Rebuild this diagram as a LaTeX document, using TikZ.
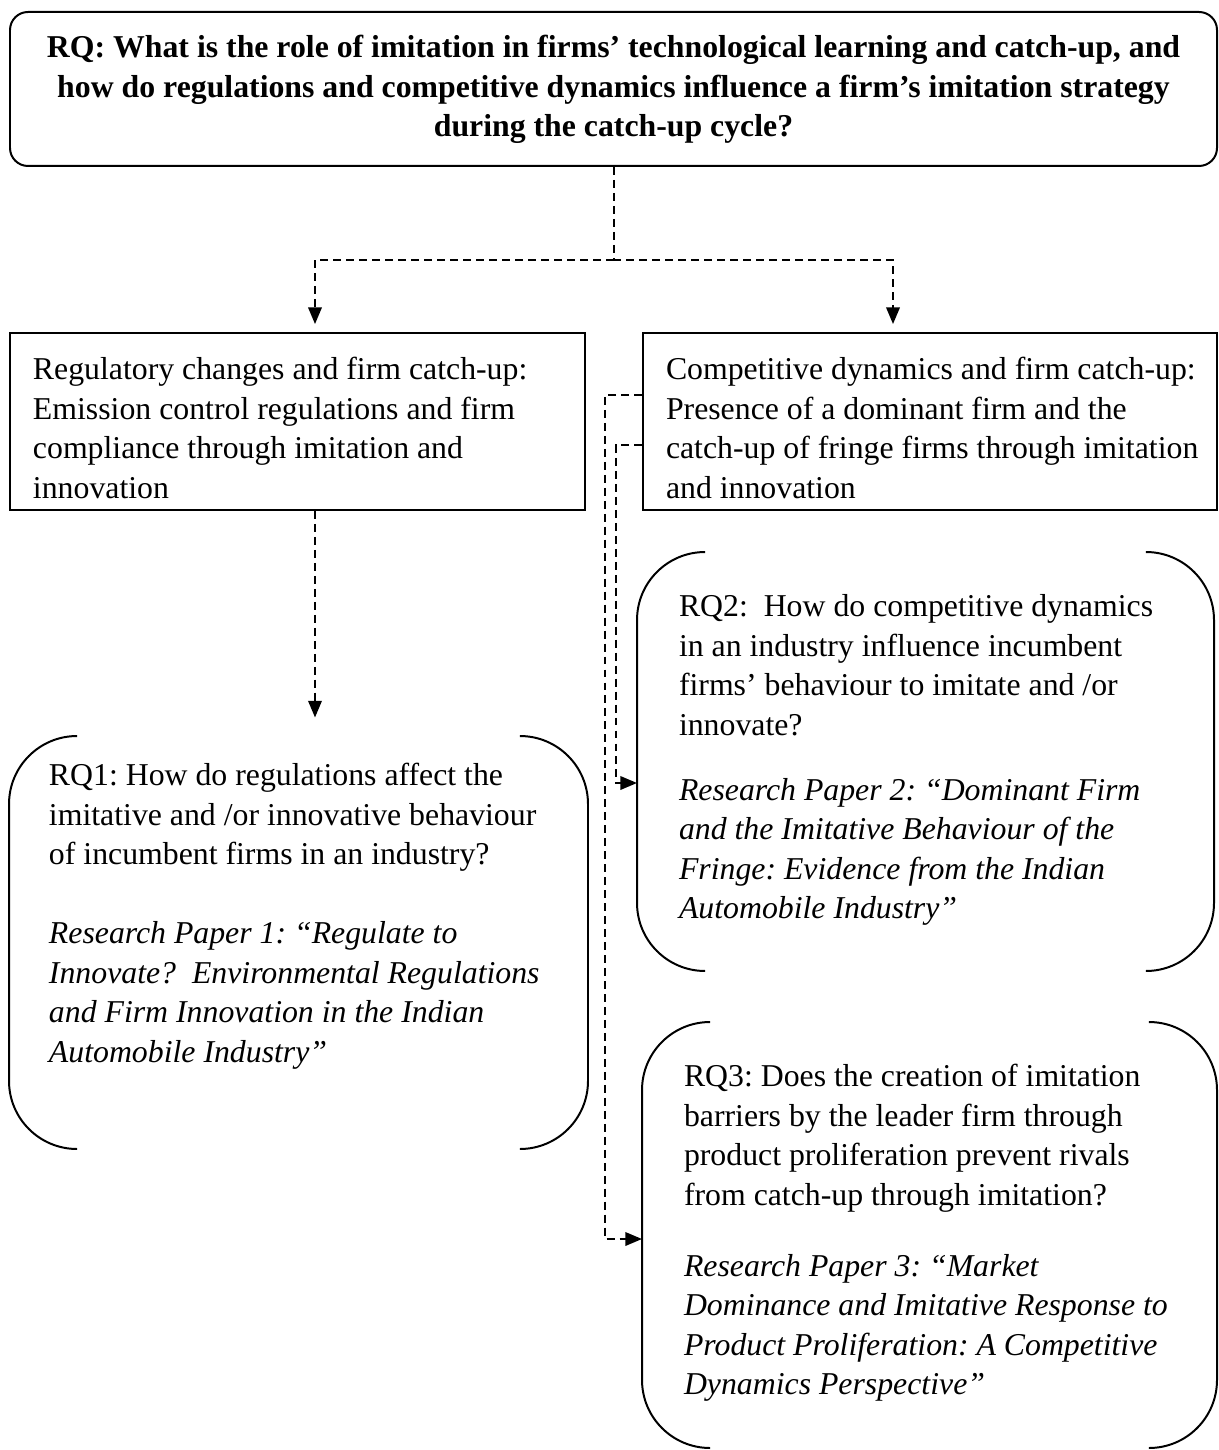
\documentclass[tikz,border=0pt]{standalone}
\usepackage{fontspec}
\setmainfont{Liberation Serif}
\usetikzlibrary{arrows.meta,calc,fit}
% fixes the height of the first line of a text block
\newcommand{\lnstrut}{\rule{0pt}{10pt}}
% a pair of round brackets around a plaque node
\newcommand{\bracketpair}[1]{%
  \draw[rounded corners=25.7pt] ([xshift=25.7pt]#1.north west) -- (#1.north west)
      -- (#1.south west) -- ([xshift=25.7pt]#1.south west);
  \draw[rounded corners=25.7pt] ([xshift=-25.7pt]#1.north east) -- (#1.north east)
      -- (#1.south east) -- ([xshift=-25.7pt]#1.south east);}
\begin{document}
\frenchspacing
\begin{tikzpicture}[x=0.3775pt,y=-0.3775pt,line width=0.75pt,
  txt/.style={inner sep=0pt,anchor=north west,align=left,
    font=\fontsize{12}{14.9}\selectfont},
  boxframe/.style={draw,inner sep=0pt},
  plaque/.style={inner sep=0pt},
  dashline/.style={dash pattern=on 3pt off 1.9pt},
  arrowline/.style={dashline,-{Triangle[length=6.3pt,width=5.1pt]}}]
\useasboundingbox (0,0) rectangle (1218,1450);

% main research question
\node[boxframe,rounded corners=6.8pt,fit={(10,12) (1217,166)}] (rq) {};
\node[txt,anchor=north,align=center,font=\bfseries\fontsize{12}{14.9}\selectfont]
  (rqtext) at (613.5,30.5)
  {\lnstrut RQ: What is the role of imitation in firms’ technological learning and catch-up, and\\
   how do regulations and competitive dynamics influence a firm’s imitation strategy\\
   during the catch-up cycle?};

% the two themes
\node[boxframe,fit={(10,333) (585,510)}] (reg) {};
\node[txt] (regtext) at (32,352.5) {\lnstrut Regulatory changes and firm catch-up:\\
  Emission control regulations and firm\\
  compliance through imitation and\\
  innovation};

\node[boxframe,fit={(643,333) (1217,510)}] (comp) {};
\node[txt] (comptext) at (665,352.5) {\lnstrut Competitive dynamics and firm catch-up:\\
  Presence of a dominant firm and the\\
  catch-up of fringe firms through imitation\\
  and innovation};

% research questions and papers
\node[plaque,fit={(10,737) (587,1148)}] (rq1) {};
\bracketpair{rq1}
\node[txt] (rq1text) at (48,758.5) {\lnstrut RQ1: How do regulations affect the\\
  imitative and /or innovative behaviour\\
  of incumbent firms in an industry?\\[14.9pt]
  \itshape Research Paper 1: “Regulate to\\
  \itshape Innovate?\ \ Environmental Regulations\\
  \itshape and Firm Innovation in the Indian\\
  \itshape Automobile Industry”};

\node[plaque,fit={(638,553) (1213,970)}] (rq2) {};
\bracketpair{rq2}
\node[txt] (rq2text) at (678,589.5) {\lnstrut RQ2:\ \ How do competitive dynamics\\
  in an industry influence incumbent\\
  firms’ behaviour to imitate and /or\\
  innovate?\\[9.6pt]
  \itshape Research Paper 2: “Dominant Firm\\
  \itshape and the Imitative Behaviour of the\\
  \itshape Fringe: Evidence from the Indian\\
  \itshape Automobile Industry”};

\node[plaque,fit={(643,1023) (1216,1447)}] (rq3) {};
\bracketpair{rq3}
\node[txt] (rq3text) at (683,1059.5) {\lnstrut RQ3: Does the creation of imitation\\
  barriers by the leader firm through\\
  product proliferation prevent rivals\\
  from catch-up through imitation?\\[11.9pt]
  \itshape Research Paper 3: “Market\\
  \itshape Dominance and Imitative Response to\\
  \itshape Product Proliferation: A Competitive\\
  \itshape Dynamics Perspective”};

% connectors
\draw[dashline] (rq.south) -- ++(0,93) coordinate (split);
\draw[arrowline,shorten >=3pt] (split) -| ($(reg.north)+(17.5,0)$);
\draw[arrowline,shorten >=3pt] (split) -| ($(comp.north)+(-37,0)$);

\coordinate (regout) at ($(reg.south)+(17.5,0)$);
\draw[arrowline,shorten >=7pt] (regout) -- (regout |- rq1.north);

\draw[arrowline] ($(comp.north west)+(0,63)$) -- ++(-37,0) |- ($(rq3.west)+(0,4)$);
\draw[arrowline] ($(comp.north west)+(0,113)$) -- ++(-26,0) |- ($(rq2.west)+(0,21.5)$);
\end{tikzpicture}
\end{document}
